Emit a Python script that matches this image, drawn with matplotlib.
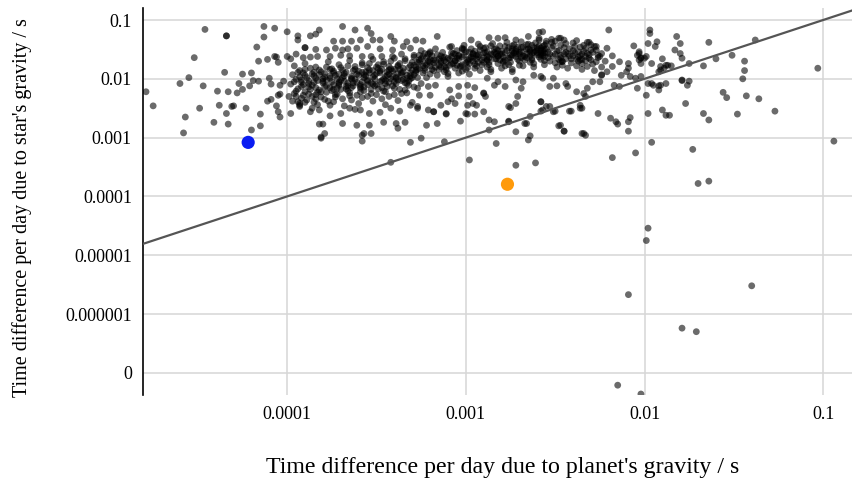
import numpy as np
import matplotlib
matplotlib.use("Agg")
import matplotlib.pyplot as plt
from matplotlib.ticker import FixedLocator, NullLocator

# log10 of the time difference per day (s): (planet's gravity, star's gravity)
left_sparse = [
    (-4.46, -1.16), (-4.34, -1.27), (-4.34, -1.27), (-4.13, -1.11), (-4.07, -1.14), (-4.00, -1.20),
    (-4.13, -1.29), (-3.94, -1.27), (-3.94, -1.34), (-3.87, -1.27), (-3.84, -1.24), (-3.82, -1.17),
    (-4.17, -1.46), (-4.52, -1.64), (-4.07, -1.62), (-4.06, -1.63), (-4.11, -1.67), (-4.16, -1.70),
    (-4.05, -1.72), (-4.00, -1.62), (-3.98, -1.66), (-3.95, -1.58), (-3.90, -1.47), (-3.90, -1.47),
    (-3.84, -1.50), (-3.91, -1.64), (-3.87, -1.63), (-3.83, -1.62), (-4.35, -1.89), (-4.25, -1.92),
    (-4.20, -1.90), (-4.55, -1.98), (-4.60, -2.08), (-4.47, -2.12), (-4.39, -2.21), (-4.33, -2.22),
    (-4.28, -2.24), (-4.25, -2.18), (-4.21, -2.12), (-4.19, -2.03), (-4.16, -2.04), (-4.27, -2.08),
    (-4.10, -1.99), (-4.09, -2.09), (-4.04, -2.11), (-4.02, -2.04), (-4.79, -2.22), (-4.75, -2.46),
    (-4.38, -2.45), (-4.31, -2.47), (-4.30, -2.46), (-4.49, -2.50), (-4.57, -2.65), (-4.34, -2.59),
    (-4.23, -2.50), (-4.15, -2.60), (-4.41, -2.74), (-4.33, -2.77), (-4.15, -2.80), (-4.20, -2.87),
    (-4.58, -2.92), (-4.04, -2.26), (-4.05, -2.28), (-4.11, -2.38), (-4.09, -2.35), (-4.06, -2.46),
    (-4.05, -2.56), (-4.04, -2.65), (-3.94, -2.39), (-3.93, -2.45), (-3.98, -2.59), (-3.99, -2.30),
    (-3.82, -2.77), (-3.81, -2.99),
]

band_a = [
    (-3.96, -1.78), (-3.90, -1.74), (-3.84, -1.80), (-3.77, -1.71), (-3.71, -1.76), (-3.65, -1.69),
    (-3.58, -1.73), (-3.52, -1.67), (-3.46, -1.71), (-3.40, -1.65), (-3.34, -1.69), (-3.29, -1.63),
    (-3.93, -1.86), (-3.87, -1.82), (-3.81, -1.88), (-3.75, -1.83), (-3.69, -1.85), (-3.62, -1.79),
    (-3.55, -1.81), (-3.49, -1.76), (-3.43, -1.79), (-3.37, -1.74), (-3.31, -1.77), (-3.27, -1.72),
    (-3.97, -1.93), (-3.91, -1.90), (-3.85, -1.95), (-3.79, -1.91), (-3.73, -1.94), (-3.67, -1.89),
    (-3.60, -1.87), (-3.54, -1.90), (-3.47, -1.84), (-3.41, -1.87), (-3.35, -1.82), (-3.30, -1.85),
    (-3.95, -2.01), (-3.89, -1.98), (-3.83, -2.03), (-3.76, -1.99), (-3.70, -2.02), (-3.64, -1.96),
    (-3.57, -1.98), (-3.51, -1.94), (-3.45, -1.96), (-3.38, -1.91), (-3.33, -1.94), (-3.28, -1.89),
    (-3.98, -2.09), (-3.92, -2.06), (-3.86, -2.11), (-3.80, -2.07), (-3.74, -2.10), (-3.68, -2.04),
    (-3.61, -2.06), (-3.55, -2.02), (-3.48, -2.05), (-3.42, -2.00), (-3.36, -2.03), (-3.30, -1.98),
    (-3.94, -2.17), (-3.88, -2.14), (-3.82, -2.19), (-3.76, -2.15), (-3.70, -2.18), (-3.63, -2.12),
    (-3.57, -2.14), (-3.50, -2.10), (-3.44, -2.13), (-3.39, -2.08), (-3.32, -2.11),
    (-3.96, -2.25), (-3.90, -2.22), (-3.84, -2.27), (-3.78, -2.23), (-3.72, -2.26), (-3.66, -2.20),
    (-3.59, -2.22), (-3.53, -2.18), (-3.46, -2.21), (-3.40, -2.16), (-3.34, -2.19),
    (-3.92, -2.33), (-3.86, -2.30), (-3.79, -2.35), (-3.73, -2.31), (-3.65, -2.29), (-3.58, -2.32),
    (-3.50, -2.27), (-3.43, -2.30), (-3.36, -2.25),
    (-3.93, -1.97), (-3.88, -2.03), (-3.82, -1.93), (-3.78, -2.12), (-3.74, -1.87), (-3.71, -2.08),
    (-3.68, -1.95), (-3.64, -2.15), (-3.61, -1.92), (-3.58, -2.05), (-3.54, -1.85), (-3.51, -2.00),
    (-3.48, -1.90), (-3.45, -2.08), (-3.42, -1.83), (-3.39, -1.97), (-3.35, -1.88), (-3.32, -2.04),
    (-3.28, -1.80),
    (-3.91, -2.10), (-3.85, -1.89), (-3.80, -2.00), (-3.76, -1.84), (-3.72, -2.16), (-3.69, -1.98),
    (-3.66, -2.07), (-3.63, -1.86), (-3.59, -2.13), (-3.56, -1.95), (-3.53, -2.07), (-3.49, -1.82),
    (-3.46, -2.00), (-3.43, -1.92), (-3.40, -2.05), (-3.37, -1.84), (-3.33, -1.99), (-3.29, -1.93),
    (-3.90, -1.94), (-3.84, -2.15), (-3.79, -1.97), (-3.75, -2.05), (-3.71, -1.92), (-3.67, -2.13),
    (-3.62, -2.01), (-3.58, -1.89), (-3.55, -2.10), (-3.52, -1.86), (-3.47, -2.15), (-3.44, -1.88),
    (-3.41, -1.96), (-3.38, -1.79), (-3.34, -2.07), (-3.31, -1.90), (-3.27, -1.84),
]

band_a_core = [
    (-3.97, -2.38), (-3.93, -2.42), (-3.89, -2.36), (-3.85, -2.40), (-3.81, -2.31), (-3.77, -2.38),
    (-3.73, -2.27), (-3.69, -2.34), (-3.65, -2.24), (-3.61, -2.28), (-3.57, -2.20), (-3.53, -2.25),
    (-3.49, -2.17), (-3.45, -2.22), (-3.41, -2.12), (-3.37, -2.18), (-3.33, -2.08), (-3.29, -2.14),
    (-3.95, -2.21), (-3.91, -2.28), (-3.87, -2.18), (-3.83, -2.23), (-3.79, -2.13), (-3.75, -2.20),
    (-3.71, -2.11), (-3.67, -2.17), (-3.63, -2.07), (-3.59, -2.10), (-3.55, -2.04), (-3.51, -2.12),
    (-3.47, -2.03), (-3.43, -2.06), (-3.39, -1.99), (-3.35, -2.01), (-3.31, -1.95), (-3.27, -1.98),
    (-3.96, -2.05), (-3.92, -2.13), (-3.88, -2.08), (-3.84, -1.99), (-3.80, -2.04), (-3.76, -1.95),
    (-3.72, -2.00), (-3.68, -1.91), (-3.64, -2.01), (-3.60, -1.94), (-3.56, -1.88), (-3.52, -1.97),
    (-3.48, -1.87), (-3.44, -1.94), (-3.40, -1.84), (-3.36, -1.90), (-3.32, -1.81), (-3.28, -1.86),
    (-3.94, -1.89), (-3.90, -1.84), (-3.86, -1.92), (-3.82, -1.85), (-3.78, -1.80), (-3.74, -1.90),
    (-3.70, -1.81), (-3.66, -1.78), (-3.62, -1.84), (-3.58, -1.76), (-3.54, -1.74), (-3.50, -1.80),
    (-3.46, -1.75), (-3.42, -1.70), (-3.38, -1.77), (-3.34, -1.66), (-3.30, -1.72), (-3.26, -1.68),
    (-3.95, -2.30), (-3.88, -2.26), (-3.81, -2.22), (-3.74, -2.18), (-3.66, -2.12), (-3.59, -2.16),
    (-3.52, -2.09), (-3.45, -2.03), (-3.38, -2.02), (-3.31, -2.00),
    (-3.92, -2.02), (-3.85, -2.06), (-3.78, -2.02), (-3.71, -2.06), (-3.64, -1.99), (-3.57, -1.93),
    (-3.50, -1.91), (-3.43, -1.85), (-3.36, -1.93), (-3.29, -1.77),
    (-3.93, -2.47), (-3.84, -2.34), (-3.76, -2.45), (-3.64, -2.36), (-3.55, -2.30), (-3.47, -2.34),
    (-3.40, -2.27), (-3.33, -2.24),
]

halo_a = [
    (-3.78, -1.51), (-3.74, -1.36), (-3.73, -1.48), (-3.69, -1.11), (-3.69, -1.36), (-3.69, -1.51),
    (-3.66, -1.49), (-3.64, -1.36), (-3.62, -1.17), (-3.61, -1.48), (-3.59, -1.34), (-3.55, -1.45),
    (-3.55, -1.14), (-3.53, -1.23), (-3.52, -1.34), (-3.48, -1.34), (-3.48, -1.49), (-3.42, -1.28),
    (-3.41, -1.51), (-3.40, -1.36), (-3.35, -1.45), (-3.33, -1.37), (-3.31, -1.48), (-3.28, -1.34),
    (-3.76, -1.62), (-3.70, -1.60), (-3.65, -1.61), (-3.58, -1.62), (-3.53, -1.62), (-3.47, -1.62),
    (-3.41, -1.62), (-3.36, -1.58), (-3.29, -1.60),
    (-3.87, -2.56), (-3.82, -2.53), (-3.76, -2.63), (-3.70, -2.59), (-3.65, -2.50), (-3.59, -2.53),
    (-3.54, -2.59), (-3.48, -2.57), (-3.42, -2.50), (-3.37, -2.55), (-3.31, -2.45), (-3.27, -2.50),
    (-3.80, -2.77), (-3.69, -2.76), (-3.61, -2.79), (-3.54, -2.79), (-3.46, -2.74), (-3.39, -2.76),
    (-3.34, -2.74), (-3.79, -2.93), (-3.57, -2.93), (-3.38, -2.84), (-3.81, -3.01), (-3.58, -2.96),
    (-3.58, -3.06), (-3.53, -2.93), (-3.31, -3.08), (-3.25, -3.01), (-3.22, -2.79), (-3.16, -2.76),
    (-3.12, -3.07), (-3.03, -2.72),
    (-3.90, -2.40), (-3.83, -2.44), (-3.74, -2.39), (-3.68, -2.46), (-3.60, -2.42), (-3.52, -2.38),
    (-3.45, -2.44), (-3.38, -2.37), (-3.30, -2.40), (-3.62, -2.52), (-3.86, -2.50),
]

band_b = [
    (-3.25, -1.66), (-3.19, -1.61), (-3.13, -1.64), (-3.07, -1.57), (-3.01, -1.60), (-2.95, -1.53),
    (-2.89, -1.56), (-2.83, -1.49), (-2.77, -1.52), (-2.71, -1.46), (-2.65, -1.49), (-2.59, -1.44),
    (-3.23, -1.74), (-3.17, -1.69), (-3.11, -1.72), (-3.05, -1.65), (-2.99, -1.68), (-2.93, -1.62),
    (-2.87, -1.64), (-2.81, -1.58), (-2.75, -1.60), (-2.69, -1.54), (-2.63, -1.57), (-2.57, -1.52),
    (-3.26, -1.82), (-3.20, -1.78), (-3.14, -1.80), (-3.08, -1.74), (-3.02, -1.76), (-2.96, -1.70),
    (-2.90, -1.72), (-2.84, -1.66), (-2.78, -1.68), (-2.72, -1.62), (-2.66, -1.64), (-2.60, -1.59),
    (-3.24, -1.90), (-3.18, -1.86), (-3.12, -1.88), (-3.06, -1.82), (-3.00, -1.84), (-2.94, -1.78),
    (-2.88, -1.80), (-2.82, -1.74), (-2.76, -1.76), (-2.70, -1.70), (-2.64, -1.72), (-2.58, -1.67),
    (-3.22, -1.98), (-3.16, -1.94), (-3.10, -1.96), (-3.04, -1.90), (-2.98, -1.92), (-2.92, -1.86),
    (-2.86, -1.88), (-2.80, -1.82), (-2.74, -1.84), (-2.68, -1.78), (-2.62, -1.80),
    (-3.21, -1.70), (-3.15, -1.84), (-3.09, -1.67), (-3.03, -1.80), (-2.97, -1.63), (-2.91, -1.76),
    (-2.85, -1.59), (-2.79, -1.72), (-2.73, -1.56), (-2.67, -1.68), (-2.61, -1.53), (-2.56, -1.62),
    (-3.24, -1.78), (-3.18, -1.73), (-3.12, -1.79), (-3.06, -1.70), (-3.00, -1.73), (-2.94, -1.66),
    (-2.88, -1.69), (-2.82, -1.62), (-2.76, -1.65), (-2.70, -1.58), (-2.64, -1.61), (-2.58, -1.56),
    (-3.26, -1.60), (-3.20, -1.56), (-3.14, -1.70), (-3.08, -1.62), (-3.02, -1.50), (-2.96, -1.58),
    (-2.90, -1.48), (-2.84, -1.55), (-2.78, -1.45), (-2.72, -1.53), (-2.66, -1.42), (-2.60, -1.50),
    (-3.23, -1.86), (-3.17, -1.80), (-3.11, -1.85), (-3.05, -1.77), (-2.99, -1.81), (-2.93, -1.72),
    (-2.87, -1.76), (-2.81, -1.68), (-2.75, -1.72), (-2.69, -1.64), (-2.63, -1.68), (-2.57, -1.60),
    (-3.20, -1.92), (-3.10, -1.91), (-3.02, -1.87), (-2.95, -1.82), (-2.86, -1.84), (-2.78, -1.78),
    (-2.70, -1.77), (-2.62, -1.74),
    (-3.15, -1.66), (-3.09, -1.77), (-3.04, -1.61), (-2.98, -1.74), (-2.93, -1.59), (-2.88, -1.67),
    (-2.83, -1.57), (-2.79, -1.63), (-2.74, -1.49), (-2.68, -1.61), (-2.62, -1.47), (-2.57, -1.57),
]

band_b_core = [
    (-3.25, -1.52), (-3.21, -1.58), (-3.17, -1.49), (-3.13, -1.55), (-3.09, -1.46), (-3.05, -1.52),
    (-3.01, -1.43), (-2.97, -1.49), (-2.93, -1.41), (-2.89, -1.47), (-2.85, -1.40), (-2.81, -1.44),
    (-2.77, -1.38), (-2.73, -1.42), (-2.69, -1.37), (-2.65, -1.41), (-2.61, -1.39), (-2.57, -1.45),
    (-3.24, -1.62), (-3.20, -1.67), (-3.16, -1.59), (-3.12, -1.63), (-3.08, -1.56), (-3.04, -1.60),
    (-3.00, -1.54), (-2.96, -1.57), (-2.92, -1.51), (-2.88, -1.54), (-2.84, -1.50), (-2.80, -1.53),
    (-2.76, -1.47), (-2.72, -1.50), (-2.68, -1.46), (-2.64, -1.51), (-2.60, -1.47), (-2.56, -1.50),
    (-3.26, -1.71), (-3.22, -1.76), (-3.18, -1.68), (-3.14, -1.73), (-3.10, -1.65), (-3.06, -1.69),
    (-3.02, -1.63), (-2.98, -1.66), (-2.94, -1.60), (-2.90, -1.64), (-2.86, -1.58), (-2.82, -1.61),
    (-2.78, -1.56), (-2.74, -1.60), (-2.70, -1.55), (-2.66, -1.58), (-2.62, -1.55), (-2.58, -1.60),
    (-3.23, -1.82), (-3.19, -1.84), (-3.15, -1.77), (-3.11, -1.81), (-3.07, -1.74), (-3.03, -1.78),
    (-2.99, -1.71), (-2.95, -1.75), (-2.91, -1.68), (-2.87, -1.72), (-2.83, -1.66), (-2.79, -1.70),
    (-2.75, -1.64), (-2.71, -1.67), (-2.67, -1.62), (-2.63, -1.65), (-2.59, -1.63), (-2.56, -1.69),
    (-3.22, -1.64), (-3.14, -1.61), (-3.06, -1.58), (-2.98, -1.55), (-2.90, -1.56), (-2.82, -1.52),
    (-2.74, -1.53), (-2.66, -1.50), (-2.60, -1.56),
    (-3.20, -1.72), (-3.12, -1.69), (-3.04, -1.66), (-2.96, -1.64), (-2.88, -1.62), (-2.80, -1.58),
    (-2.72, -1.57), (-2.64, -1.54), (-2.58, -1.48),
]

halo_b = [
    (-3.24, -1.36), (-3.16, -1.28), (-2.97, -1.34), (-2.87, -1.30), (-2.82, -1.31), (-2.78, -1.30),
    (-2.72, -1.34), (-2.65, -1.28), (-2.59, -1.34), (-2.57, -1.20), (-3.08, -1.45), (-3.02, -1.48),
    (-2.92, -1.45), (-2.86, -1.44), (-2.74, -1.44), (-2.69, -1.47), (-2.63, -1.43), (-3.23, -1.57),
    (-3.20, -1.54), (-3.01, -1.50), (-2.59, -1.21), (-2.59, -1.31), (-2.55, -1.36), (-2.48, -1.31),
    (-3.25, -2.08), (-3.27, -2.16), (-3.26, -2.28), (-3.21, -2.13), (-3.17, -2.11), (-3.20, -2.28),
    (-3.14, -2.45), (-3.21, -2.53), (-3.18, -2.56), (-3.18, -2.56), (-3.11, -2.60), (-3.10, -2.39),
    (-3.08, -2.34), (-3.06, -2.42), (-3.09, -2.19), (-3.04, -2.13), (-3.04, -2.29), (-2.99, -2.60),
    (-2.95, -2.60), (-2.98, -2.30), (-2.96, -2.42), (-2.94, -2.45), (-2.90, -2.25), (-2.90, -2.24),
    (-2.89, -2.30), (-2.95, -2.15), (-2.88, -1.99), (-2.82, -2.05), (-2.78, -2.13), (-2.72, -2.02),
    (-2.68, -2.05), (-2.62, -1.94), (-2.58, -1.96), (-2.74, -1.88), (-2.69, -2.16), (-2.71, -2.30),
    (-2.72, -2.42), (-2.75, -2.49), (-2.84, -2.11), (-2.87, -2.70), (-2.84, -2.73), (-2.67, -2.76),
    (-2.64, -2.64), (-2.58, -2.39), (-2.57, -2.53), (-2.99, -2.11), (-3.27, -2.47), (-2.72, -2.90),
    (-2.83, -3.10), (-2.65, -3.04), (-2.64, -2.97), (-2.87, -2.87), (-2.48, -2.80), (-2.45, -2.89),
    (-2.34, -2.93), (-2.33, -2.96), (-2.66, -2.76), (-2.76, -2.73), (-2.76, -2.72), (-3.00, -2.59),
    (-3.11, -2.59), (-2.99, -2.45), (-2.90, -2.56), (-2.76, -2.47), (-2.55, -2.47), (-2.58, -2.55),
    (-2.51, -2.56), (-2.42, -2.55), (-2.36, -2.50),
]

band_c = [
    (-2.55, -1.40), (-2.52, -1.47), (-2.54, -1.55), (-2.50, -1.36), (-2.48, -1.52), (-2.51, -1.62),
    (-2.47, -1.43), (-2.45, -1.58), (-2.53, -1.70), (-2.44, -1.66), (-2.42, -1.49), (-2.40, -1.39),
    (-2.39, -1.56), (-2.41, -1.73), (-2.37, -1.63), (-2.36, -1.46), (-2.34, -1.53), (-2.33, -1.69),
    (-2.31, -1.59), (-2.30, -1.42), (-2.29, -1.75), (-2.27, -1.51), (-2.26, -1.64), (-2.49, -1.80),
    (-2.46, -1.71), (-2.38, -1.78), (-2.35, -1.84), (-2.32, -1.79), (-2.28, -1.86), (-2.43, -1.82),
    (-2.56, -1.76), (-2.50, -1.58), (-2.47, -1.64), (-2.44, -1.55), (-2.40, -1.61), (-2.37, -1.70),
    (-2.35, -1.58), (-2.33, -1.62), (-2.30, -1.68), (-2.52, -1.33), (-2.45, -1.34), (-2.38, -1.35),
    (-2.31, -1.38), (-2.27, -1.45), (-2.24, -1.57), (-2.22, -1.70), (-2.24, -1.80),
    (-2.56, -1.43), (-2.47, -1.71), (-2.36, -1.68), (-2.58, -1.52), (-2.46, -1.70), (-2.35, -1.67),
    (-2.55, -1.49), (-2.53, -1.58), (-2.51, -1.44), (-2.49, -1.53), (-2.47, -1.60), (-2.45, -1.47),
    (-2.43, -1.57), (-2.41, -1.66), (-2.39, -1.45), (-2.37, -1.54), (-2.35, -1.74), (-2.33, -1.48),
    (-2.31, -1.65), (-2.29, -1.55), (-2.27, -1.71), (-2.54, -1.64), (-2.50, -1.73), (-2.46, -1.77),
    (-2.42, -1.61), (-2.38, -1.67), (-2.34, -1.43), (-2.30, -1.51), (-2.52, -1.38), (-2.44, -1.40),
    (-2.36, -1.61), (-2.56, -1.56), (-2.48, -1.67), (-2.40, -1.52), (-2.32, -1.57), (-2.26, -1.60),
]

right_sparse = [
    (-2.20, -1.17), (-1.97, -1.17), (-1.97, -1.23), (-1.93, -1.37), (-1.94, -1.45), (-1.98, -1.40),
    (-2.06, -1.44), (-2.32, -1.38), (-2.47, -1.31), (-2.21, -1.48), (-2.28, -1.45), (-2.18, -1.61),
    (-2.25, -1.62), (-2.14, -1.71), (-2.09, -1.74), (-2.03, -1.57), (-2.02, -1.65), (-2.02, -1.74),
    (-1.99, -1.62), (-1.96, -1.74), (-1.91, -1.79), (-1.88, -1.77), (-2.18, -1.79), (-2.24, -1.94),
    (-2.24, -1.93), (-2.21, -1.88), (-2.13, -1.94), (-2.10, -1.88), (-2.08, -1.96), (-2.05, -1.99),
    (-2.02, -1.96), (-2.09, -1.82), (-1.98, -2.08), (-1.95, -2.11), (-1.92, -2.12), (-1.88, -2.08),
    (-1.99, -2.28), (-2.04, -2.16), (-2.14, -2.13), (-2.17, -2.11), (-2.25, -2.05), (-2.29, -2.05),
    (-2.32, -2.16), (-2.34, -2.25), (-2.38, -2.22), (-2.33, -2.30), (-2.43, -2.13), (-2.44, -2.08),
    (-2.49, -2.12), (-2.53, -2.13), (-2.51, -1.99), (-2.57, -1.99), (-2.58, -2.39), (-2.53, -2.47),
    (-2.50, -2.55), (-2.41, -2.55), (-2.35, -2.50), (-2.26, -2.59), (-2.19, -2.67), (-2.16, -2.73),
    (-2.15, -2.77), (-2.09, -2.73), (-2.08, -2.66), (-2.09, -2.89), (-1.98, -2.59), (-1.90, -2.53),
    (-1.88, -2.62), (-1.92, -1.88), (-2.47, -2.79), (-2.45, -2.89), (-2.35, -2.93), (-2.36, -2.45),
    (-2.03, -1.54), (-2.04, -1.60), (-2.02, -1.64), (-2.03, -1.68), (-1.90, -1.66), (-1.87, -1.77),
    (-1.85, -1.78), (-1.89, -1.82), (-1.91, -1.85), (-2.00, -1.65),
    (-1.82, -1.28), (-1.80, -1.40), (-1.83, -1.51), (-1.80, -1.57), (-1.79, -1.65), (-1.75, -1.74),
    (-1.79, -2.02), (-1.79, -2.03), (-1.76, -2.11), (-1.75, -2.04), (-1.77, -2.42), (-1.64, -1.38),
    (-1.60, -1.66), (-1.51, -1.60), (-1.44, -1.70), (-1.44, -1.86), (-1.45, -2.00), (-1.38, -1.34),
    (-1.67, -1.78), (-1.67, -2.59), (-1.64, -2.70), (-1.48, -2.60), (-1.43, -2.29), (-1.36, -2.34),
    (-1.73, -3.20), (-1.86, -2.62), (-1.91, -2.11), (-1.92, -2.19), (-1.96, -2.08), (-1.96, -3.08),
    (-1.56, -2.23), (-1.54, -2.32), (-1.27, -2.55), (-1.03, -1.82), (-0.94, -3.06),
]

below_line = [
    (-2.72, -3.47), (-2.61, -3.43), (-2.18, -3.34), (-2.05, -3.26), (-1.70, -3.78), (-1.64, -3.74),
    (-1.98, -4.54), (-1.99, -4.75), (-2.09, -5.67), (-1.40, -5.52), (-1.79, -6.24), (-1.71, -6.30),
    (-2.15, -7.21), (-2.02, -7.36), (-2.98, -3.38), (-3.42, -3.42),
]

# highlighted systems (seconds per day)
blue_planet, blue_star = 6.05e-5, 8.3e-4
orange_planet, orange_star = 1.71e-3, 1.61e-4

y_tick_values = [1e-7, 1e-6, 1e-5, 1e-4, 1e-3, 1e-2, 1e-1]
y_tick_labels = ["0", "0.000001", "0.00001", "0.0001", "0.001", "0.01", "0.1"]
x_tick_values = [1e-4, 1e-3, 1e-2, 1e-1]
x_tick_labels = ["0.0001", "0.001", "0.01", "0.1"]

groups = [left_sparse, band_a, band_a_core, halo_a, band_b, band_b_core, halo_b,
          band_c, right_sparse, below_line]
pts = np.array([p for g in groups for p in g])
planet = 10 ** pts[:, 0]
star = 10 ** pts[:, 1]

plt.rcParams["font.family"] = ["Liberation Serif", "DejaVu Serif"]

fig = plt.figure(figsize=(8.52, 4.84), dpi=100)
ax = fig.add_axes([143 / 852, 89 / 484, 709 / 852, 387 / 484])
ax.set_xscale("log")
ax.set_yscale("log")
ax.set_xlim(1.56e-5, 0.145)
ax.set_ylim(4.2e-8, 0.16)

ax.scatter(planet, star, s=24, color="black", alpha=0.58, edgecolors="none", zorder=2)
ax.plot([1e-6, 1.0], [1e-6, 1.0], color="#555555", lw=1.6, zorder=3)
ax.scatter([blue_planet], [blue_star], s=90, color="#0a1cf2", edgecolors="none", zorder=4)
ax.scatter([orange_planet], [orange_star], s=90, color="#ff9a0a", edgecolors="none", zorder=4)

ax.xaxis.set_major_locator(FixedLocator(x_tick_values))
ax.set_xticklabels(x_tick_labels)
ax.yaxis.set_major_locator(FixedLocator(y_tick_values))
ax.set_yticklabels(y_tick_labels)
ax.xaxis.set_minor_locator(NullLocator())
ax.yaxis.set_minor_locator(NullLocator())
ax.tick_params(axis="both", length=0, labelsize=13, colors="black")
ax.tick_params(axis="y", pad=8)
ax.tick_params(axis="x", pad=8)

ax.grid(True, color="#d6d6d6", lw=1.1, zorder=0)
ax.set_axisbelow(True)
for side in ["top", "right", "bottom"]:
    ax.spines[side].set_visible(False)
ax.spines["left"].set_color("black")
ax.spines["left"].set_linewidth(1.2)

fig.text(503 / 852, 1 - 467 / 484, "Time difference per day due to planet's gravity / s",
         ha="center", va="center", fontsize=17.2)
fig.text(22 / 852, 1 - 208 / 484, "Time difference per day due to star's gravity / s",
         ha="center", va="center", rotation=90, fontsize=14.5)

fig.savefig("out.png", dpi=100)
